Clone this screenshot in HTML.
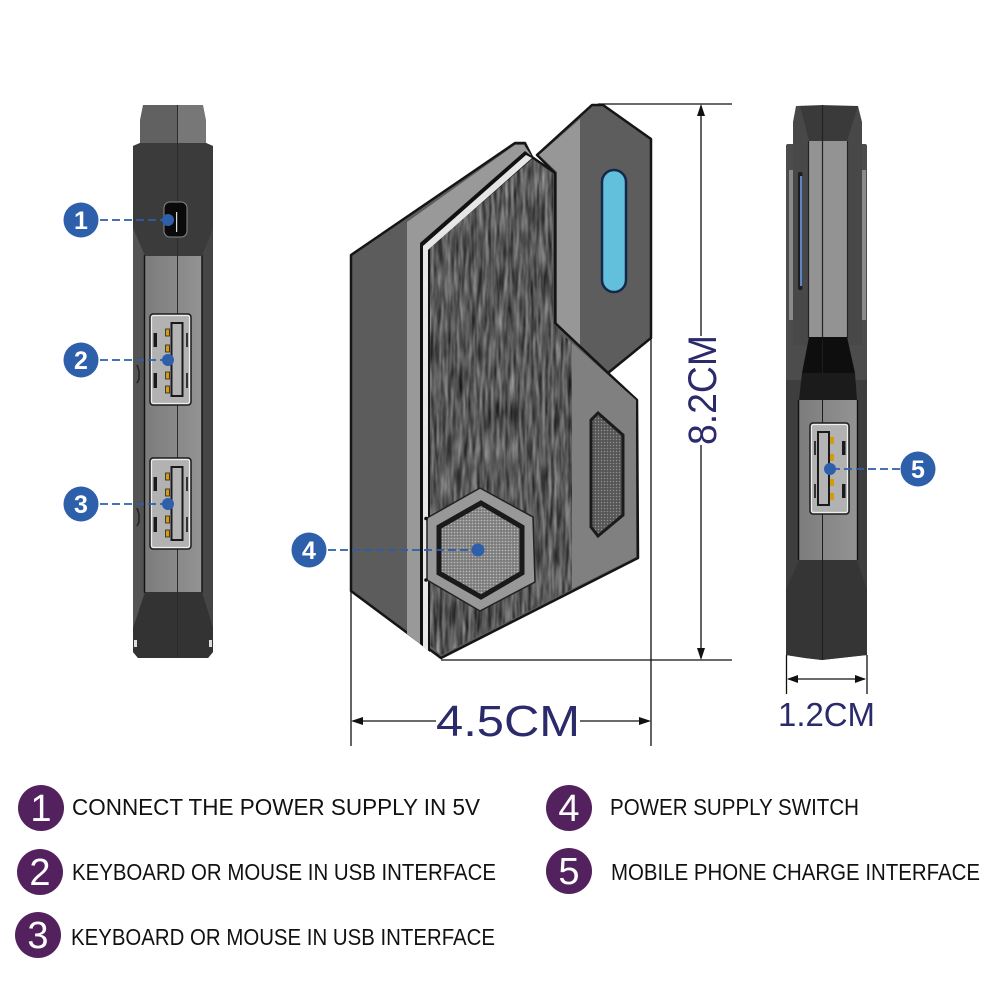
<!DOCTYPE html>
<html><head><meta charset="utf-8"><style>
html,body{margin:0;padding:0;background:#fff}
svg{display:block}
text{font-family:"Liberation Sans",sans-serif}
</style></head><body>
<svg xmlns="http://www.w3.org/2000/svg" width="1000" height="1000" viewBox="0 0 1000 1000">
<defs>
<filter id="fab" x="0" y="0" width="100%" height="100%" color-interpolation-filters="sRGB">
<feTurbulence type="fractalNoise" baseFrequency="0.35 0.03" numOctaves="3" seed="4"/>
<feColorMatrix type="matrix" values="0.75 0 0 0 -0.03  0.75 0 0 0 -0.03  0.75 0 0 0 -0.03  0 0 0 0 1"/>
<feGaussianBlur stdDeviation="0.4"/>
</filter>
<pattern id="mesh" width="3" height="3" patternUnits="userSpaceOnUse"><rect width="3" height="3" fill="#7a7a7a"/><circle cx="1.5" cy="1.5" r=".9" fill="#b8b8b8"/></pattern>
<pattern id="mesh2" width="3" height="3" patternUnits="userSpaceOnUse"><rect width="3" height="3" fill="#555"/><circle cx="1.5" cy="1.5" r=".75" fill="#909090"/></pattern>
<clipPath id="fc"><polygon points="430,248 532,159 553,174 553,323 572,344 572,589 441,655 430,645"/></clipPath>
<linearGradient id="side" x1="0" x2="1" y1="0" y2="0"><stop offset="0" stop-color="#555"/><stop offset="1" stop-color="#444"/></linearGradient>
<linearGradient id="panel" x1="0" x2="1" y1="0" y2="0"><stop offset="0" stop-color="#7c7c7c"/><stop offset="1" stop-color="#939393"/></linearGradient>
<g id="usb">
<rect x="0" y="0" width="41" height="91" rx="3" fill="#aaa" stroke="#1c1c1c" stroke-width="1.5"/>
<rect x="1.5" y="1.5" width="38" height="88" rx="2" fill="#b2b2b2" stroke="#eee" stroke-width="1.2"/>
<rect x="21.5" y="9" width="11" height="73" fill="#b4b4b4" stroke="#1a1a1a" stroke-width="2"/>
<rect x="15.5" y="15" width="4" height="7" fill="#d59a10" stroke="#222" stroke-width=".8"/>
<rect x="15.5" y="31" width="4" height="7" fill="#d59a10" stroke="#222" stroke-width=".8"/>
<rect x="15.5" y="58" width="4" height="7" fill="#d59a10" stroke="#222" stroke-width=".8"/>
<rect x="15.5" y="72" width="4" height="7" fill="#d59a10" stroke="#222" stroke-width=".8"/>
<rect x="3.5" y="19" width="3.5" height="14" fill="#1a1a1a"/>
<rect x="3.5" y="59" width="3.5" height="15" fill="#1a1a1a"/>
<rect x="36" y="19" width="2" height="14" fill="#333"/>
<rect x="36" y="59" width="2" height="15" fill="#333"/>
</g>
</defs>
<rect width="1000" height="1000" fill="#fff"/>

<!-- left device -->
<polygon points="143,105 177,105 177,145 140,145 140,120" fill="#616161"/>
<polygon points="177,105 203,105 206,120 206,145 177,145" fill="#777"/>
<polygon points="133,146 140,143 206,143 213,146 213,652 208,658 177,658 138,658 133,652" fill="url(#side)"/>
<rect x="145" y="255" width="57" height="338" fill="url(#panel)"/>
<path d="M144.500 255V593M202 255V593" stroke="#111" stroke-width="1.400"/>
<polygon points="133,146 140,143 206,143 213,146 213,228 202,256 145,256 133,228" fill="#3b3b3b"/>
<polygon points="145,592 202,592 213,628 213,652 208,658 138,658 133,652 133,628" fill="#333"/>
<path d="M177.500 105V658" stroke="#2b2b2b" stroke-width="1"/>
<rect x="134" y="640" width="3" height="7" fill="#ddd"/>
<rect x="209" y="640" width="3" height="7" fill="#ddd"/>
<rect x="164" y="202" width="23" height="35" rx="6" fill="#0a0a0a" stroke="#888" stroke-width="1"/>
<rect x="176" y="212" width="1.200" height="20" fill="#ddd"/>
<use href="#usb" x="150" y="314"/>
<use href="#usb" x="150" y="458"/>
<path d="M137 365l2 6v8l-2 4M137 508l2 6v8l-2 4" stroke="#222" stroke-width="1.500" fill="none"/>

<!-- center back piece -->
<polygon points="537,155 592,105 603,105 651,139 651,338 608,373 555,323 555,173" fill="#5d5d5d" stroke="#151515" stroke-width="2.500" stroke-linejoin="round"/>
<polygon points="539,155 580,119 580,345 557,323 557,172" fill="#979797"/>
<rect x="602" y="170" width="24" height="122" rx="12" fill="#62c0dc" stroke="#14284a" stroke-width="2.500"/>

<!-- center body -->
<polygon points="351,255 515,143 525,143 532,157 555,173 555,323 608,373 637,400 638,558 441,658 351,591" fill="#5c5c5c" stroke="#151515" stroke-width="2.500" stroke-linejoin="round"/>
<polygon points="407,222 515,145 524,145 531,155 420,244 420,644 407,634" fill="#999"/>
<polygon points="572,343 608,375 636,400 636,557 572,589" fill="#808080"/>
<polygon points="420,243 525,151 534,158 430,248 430,652 420,644" fill="#111"/>
<polygon points="423,246 526,155 532,158 428,250 428,651 423,647" fill="#e6e6e6"/>
<g clip-path="url(#fc)"><rect x="425" y="155" width="150" height="505" filter="url(#fab)"/></g>
<polygon points="598,413 623,435 623,515 598,536 591,527 591,420" fill="url(#mesh2)" stroke="#1b1b1b" stroke-width="3"/>
<polygon points="480,488 533,517 535,582 480,611 427,580 427,518" fill="#989898" stroke="#222" stroke-width="1.500"/>
<polygon points="481,503 522,527 522,573 481,597 439,573 439,527" fill="url(#mesh)" stroke="#1a1a1a" stroke-width="5"/>
<circle cx="426" cy="518.500" r="1.800" fill="#111"/><circle cx="426" cy="580" r="1.800" fill="#111"/>

<!-- dimension lines -->
<g stroke="#111" fill="none" stroke-width="1.300">
<path d="M598 104H732M441 660H732M351 590V746M651 338V746"/>
<path d="M701 106V336M701 445V658"/>
<path d="M353 721H436M580 721H649"/>
<path d="M786.500 655V694M867 655V694M788 679H865"/>
</g>
<g fill="#111">
<polygon points="701,104 697,116 705,116"/><polygon points="701,660 697,648 705,648"/>
<polygon points="351,721 363,717 363,725"/><polygon points="651,721 639,717 639,725"/>
<polygon points="787,679 798,675 798,683"/><polygon points="866,679 855,675 855,683"/>
</g>
<g fill="#2b2a6b">
<text x="436" y="736" font-size="44" textLength="144" lengthAdjust="spacingAndGlyphs">4.5CM</text>
<text x="778" y="726" font-size="33" textLength="97" lengthAdjust="spacingAndGlyphs">1.2CM</text>
<text transform="translate(716,445) rotate(-90)" font-size="40" textLength="110" lengthAdjust="spacingAndGlyphs">8.2CM</text>
</g>

<!-- right device -->
<rect x="786" y="144" width="81" height="240" rx="2" fill="#4c4c4c"/>
<rect x="789" y="170" width="4" height="150" fill="#8a8a8a"/><rect x="862" y="170" width="4" height="150" fill="#8a8a8a"/>
<polygon points="796,106 822,105 858,106 862,122 862,345 793,345 793,122" fill="#484848"/>
<polygon points="800,106 858,106 847,141 809,141" fill="#3a3a3a"/>
<rect x="809" y="141" width="38" height="197" fill="#939393"/>
<path d="M808.500 141V338M847.500 141V338M822.500 105V338" stroke="#222" stroke-width="1.200"/>
<rect x="798" y="172" width="4.500" height="118" rx="2" fill="#1d1d1d"/><rect x="800" y="176" width="2.200" height="110" fill="#5f86c0"/>
<polygon points="786,380 867,380 867,655 840,658 822,660 805,658 786,655" fill="#3e3e3e"/>
<polygon points="809,337 847,337 855,373 802,373" fill="#0e0e0e"/>
<polygon points="802,373 855,373 857,400 799,400" fill="#1b1b1b"/>
<rect x="799" y="400" width="58" height="160" fill="url(#panel)"/>
<path d="M798.500 400V560M857.500 400V560" stroke="#111" stroke-width="1.400"/>
<polygon points="799,560 857,560 867,590 867,655 840,658 822,660 805,658 786,655 786,590" fill="#353535"/>
<path d="M822.500 340V660" stroke="#1d1d1d" stroke-width="1"/>
<g transform="translate(849,423) scale(-1,1)"><rect x="0" y="0" width="39" height="91" rx="3" fill="#aaa" stroke="#1c1c1c" stroke-width="1.500"/><rect x="1.500" y="1.500" width="36" height="88" rx="2" fill="#b2b2b2" stroke="#eee" stroke-width="1.200"/><rect x="20" y="9" width="11" height="73" fill="#b4b4b4" stroke="#1a1a1a" stroke-width="2"/><rect x="15" y="14" width="4" height="7" fill="#d59a10"/><rect x="15" y="31" width="4" height="7" fill="#d59a10"/><rect x="15" y="56" width="4" height="7" fill="#d59a10"/><rect x="15" y="70" width="4" height="7" fill="#d59a10"/><rect x="3.500" y="18" width="3.500" height="14" fill="#1a1a1a"/><rect x="3.500" y="61" width="3.500" height="14" fill="#1a1a1a"/><rect x="33" y="18" width="2" height="14" fill="#333"/><rect x="33" y="61" width="2" height="14" fill="#333"/></g>

<!-- callouts -->
<g stroke="#2d5fab" stroke-width="1.800" stroke-dasharray="8 4" fill="none">
<path d="M100 220H164M100 360H164M100 504H164M328 550H474M912 469H834"/>
</g>
<g fill="#2d5fab">
<circle cx="81" cy="220" r="17.500"/><circle cx="81" cy="360" r="17.500"/><circle cx="81" cy="504" r="17.500"/><circle cx="309" cy="550" r="17.500"/><circle cx="918" cy="469" r="17.500"/>
<circle cx="168" cy="220" r="6"/><circle cx="168" cy="360" r="6"/><circle cx="168" cy="504" r="6"/><circle cx="478" cy="550" r="6.500"/><circle cx="830" cy="469" r="6"/>
</g>
<g fill="#fff" font-size="25" font-weight="bold" text-anchor="middle">
<text x="81" y="229">1</text><text x="81" y="369">2</text><text x="81" y="513">3</text><text x="309" y="559">4</text><text x="918" y="478">5</text>
</g>

<!-- legend -->
<g fill="#54215f">
<circle cx="41" cy="808" r="23"/><circle cx="40" cy="872" r="23"/><circle cx="38" cy="935" r="23"/><circle cx="569" cy="808" r="23"/><circle cx="569" cy="871" r="23"/>
</g>
<g fill="#fff" font-size="38" text-anchor="middle">
<text x="41" y="821">1</text><text x="40" y="885">2</text><text x="38" y="948">3</text><text x="569" y="821">4</text><text x="569" y="884">5</text>
</g>
<g fill="#111" font-size="23">
<text x="72" y="815" textLength="408" lengthAdjust="spacingAndGlyphs">CONNECT THE POWER SUPPLY IN 5V</text>
<text x="72" y="880" textLength="424" lengthAdjust="spacingAndGlyphs">KEYBOARD OR MOUSE IN USB INTERFACE</text>
<text x="71" y="945" textLength="424" lengthAdjust="spacingAndGlyphs">KEYBOARD OR MOUSE IN USB INTERFACE</text>
<text x="610" y="815" textLength="249" lengthAdjust="spacingAndGlyphs">POWER SUPPLY SWITCH</text>
<text x="611" y="880" textLength="369" lengthAdjust="spacingAndGlyphs">MOBILE PHONE CHARGE INTERFACE</text>
</g>
</svg>
</body></html>
